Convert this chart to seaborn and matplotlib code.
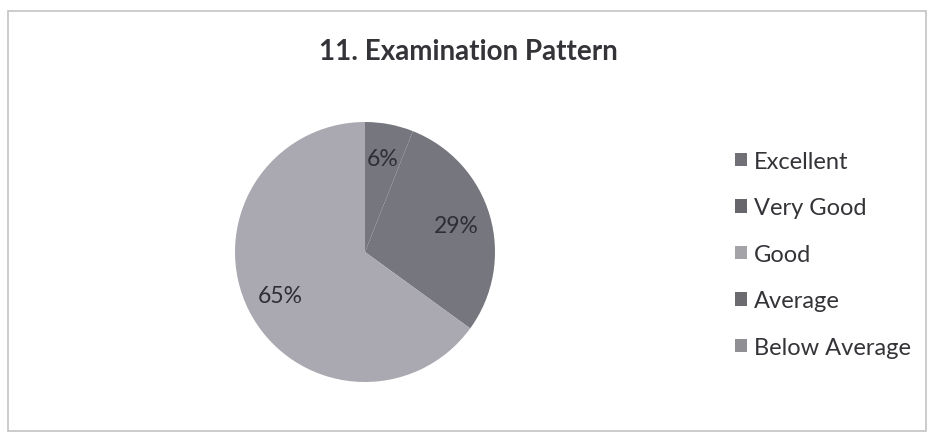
import matplotlib
matplotlib.use("Agg")
import matplotlib.pyplot as plt
import seaborn as sns
from matplotlib.patches import Rectangle, Patch

categories = ["Excellent", "Very Good", "Good", "Average", "Below Average"]
values = [6, 29, 65, 0, 0]
colors = ["#76767e", "#76767e", "#aaa8b0", "#6a6a6e", "#8e8e94"]
legend_colors = ["#707076", "#66666c", "#a4a4a8", "#6c6c70", "#909094"]
title = "11. Examination Pattern"

sns.set_theme(style="white")
plt.rcParams["font.family"] = ["Lato", "DejaVu Sans"]

W, H = 928, 435
fig = plt.figure(figsize=(W / 100, H / 100), dpi=100)
fig.patch.set_facecolor("white")

# chart border
fig.add_artist(Rectangle((8 / W, 1 - 432 / H), (926 - 8) / W, (432 - 12) / H,
                         transform=fig.transFigure, fill=False,
                         edgecolor="#c4c4c4", linewidth=1.2))

cx, cy, r = 365, 253, 130
ax = fig.add_axes([(cx - r) / W, 1 - (cy + r) / H, 2 * r / W, 2 * r / H])

def fmt(p):
    return f"{p:.0f}%" if p >= 0.5 else ""

wedges, texts, autotexts = ax.pie(
    values, colors=colors, startangle=90, counterclock=False,
    autopct=fmt, pctdistance=0.73, radius=1.0,
    wedgeprops=dict(edgecolor="none"),
    textprops=dict(fontsize=16.5, color="#2e2e34"))
ax.set_xlim(-1, 1)
ax.set_ylim(-1, 1)
ax.set_aspect("equal")
ax.axis("off")

fig.text(468 / W, 1 - 52 / H, title, ha="center", va="center",
         fontsize=20, fontweight="bold", color="#333338")

handles = [Patch(facecolor=c, edgecolor="none") for c in legend_colors]
leg = fig.legend(handles, categories, loc="upper left",
                 bbox_to_anchor=(723 / W, 1 - 140 / H), frameon=False,
                 fontsize=17, handlelength=0.5, handleheight=0.5,
                 handletextpad=0.3, labelspacing=1.08, borderpad=0)
for t in leg.get_texts():
    t.set_color("#333338")

fig.savefig("out.png", dpi=100, facecolor="white")
